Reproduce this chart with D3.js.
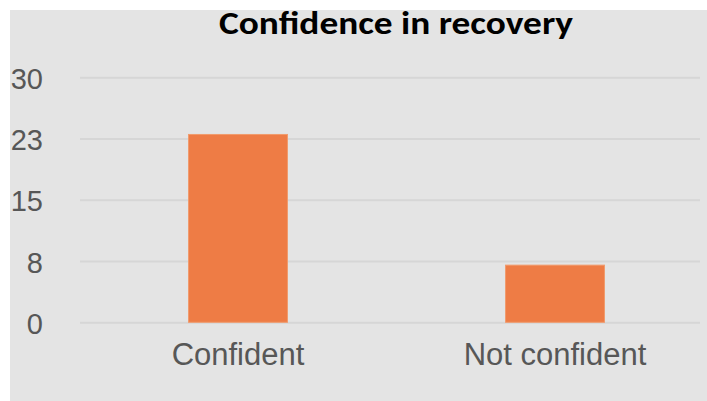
<!DOCTYPE html>
<html>
<head>
<meta charset="utf-8">
<script src="https://cdn.jsdelivr.net/npm/d3@7"></script>
<style>
  html, body { margin: 0; padding: 0; background: #ffffff; }
  svg { display: block; }
</style>
</head>
<body>
<svg id="chart" width="707" height="401"></svg>
<script>
// Survey answers: how many respondents feel confident about their recovery
const categories = ["Confident", "Not confident"];
const counts = [23, 7];
// Value axis ticks (0–30 in quarters) and the labels printed beside them
const tickValues = [0, 7.5, 15, 22.5, 30];
const tickLabels = ["0", "8", "15", "23", "30"];
const chartTitle = "Confidence in recovery";

const svg = d3.select("#chart");
const panel = { x: 10, y: 10, w: 697, h: 391 };

// grey chart area
svg.append("rect")
  .attr("x", panel.x).attr("y", panel.y)
  .attr("width", panel.w).attr("height", panel.h)
  .attr("fill", "#e4e4e4");

const y = d3.scaleLinear().domain([0, 30]).range([322.3, 77.3]);
const x = d3.scaleBand()
  .domain(categories)
  .range([79.5, 713.5])
  .paddingInner(0.688)
  .paddingOuter(0.344);

const sansFont = "'Helvetica Neue', Helvetica, 'Liberation Sans', Arial, sans-serif";

// horizontal gridlines + value labels via a left axis
const yAxis = d3.axisLeft(y)
  .tickValues(tickValues)
  .tickSize(-(700 - 80))
  .tickPadding(37)
  .tickFormat((d, i) => tickLabels[i]);

const gy = svg.append("g")
  .attr("transform", "translate(80,0)")
  .call(yAxis);
gy.select(".domain").remove();
gy.selectAll(".tick line")
  .attr("stroke", "#d6d6d6")
  .attr("stroke-width", 2);
gy.selectAll(".tick text")
  .attr("fill", "#575757")
  .attr("font-family", sansFont)
  .attr("font-size", 29)
  .attr("dy", "0.38em");

// bars
svg.append("g").selectAll("rect")
  .data(categories)
  .join("rect")
  .attr("x", d => x(d))
  .attr("width", x.bandwidth())
  .attr("y", (d, i) => y(counts[i]))
  .attr("height", (d, i) => y(0) - y(counts[i]))
  .attr("fill", "#ee7c45")
  .attr("stroke", "#f19a6c")
  .attr("stroke-width", 1);

// category labels
const xAxis = d3.axisBottom(x).tickSize(0).tickPadding(21);
const gx = svg.append("g")
  .attr("transform", `translate(0,${y(0)})`)
  .call(xAxis);
gx.select(".domain").remove();
gx.selectAll(".tick text")
  .attr("fill", "#575757")
  .attr("font-family", sansFont)
  .attr("font-size", 31)
  .attr("dy", "0.71em");

// title, stretched to the width of the heavier original face
svg.append("text")
  .attr("x", 219)
  .attr("y", 34)
  .attr("font-family", "Carlito, Calibri, Lato, 'Open Sans', sans-serif")
  .attr("font-weight", "bold")
  .attr("font-size", 32)
  .attr("textLength", 354)
  .attr("lengthAdjust", "spacingAndGlyphs")
  .attr("fill", "#000000")
  .text(chartTitle);
</script>
</body>
</html>
